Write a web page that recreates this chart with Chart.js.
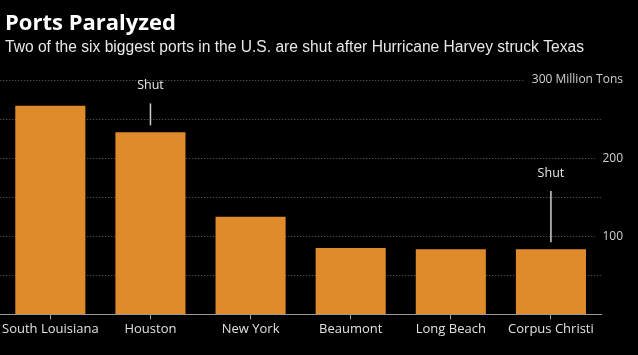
<!DOCTYPE html>
<html><head><meta charset="utf-8">
<script src="https://cdn.jsdelivr.net/npm/chart.js@4"></script>
<style>html,body{margin:0;padding:0;background:#000;}#wrap{width:638px;height:355px;position:relative;}</style>
</head><body><div id="wrap"><canvas id="c" width="638" height="355"></canvas></div>
<script>
const titleText = "Ports Paralyzed";
const subtitleText = "Two of the six biggest ports in the U.S. are shut after Hurricane Harvey struck Texas";
const ports = ["South Louisiana", "Houston", "New York", "Beaumont", "Long Beach", "Corpus Christi"];
const tonnage = [267, 233, 125, 85, 83.5, 83.5];
const yTickValues = [300, 200, 100];
const yTickLabels = ["300 Million Tons", "200", "100"];
const shutPorts = ["Houston", "Corpus Christi"];
const shutLineTop = [270, 158];

const bg = {
  id: 'bg',
  beforeDraw(chart) {
    const c = chart.ctx; c.save(); c.fillStyle = '#000'; c.fillRect(0, 0, chart.width, chart.height); c.restore();
  },
  afterDraw(chart) {
    const c = chart.ctx, ys = chart.scales.y;
    c.save();
    c.textBaseline = 'alphabetic'; c.textAlign = 'left';
    c.fillStyle = '#ffffff';
    c.font = 'bold 22px "Open Sans"';
    c.fillText(titleText, 5, 30);
    c.fillStyle = '#e8e8e8';
    c.font = '15.6px "Liberation Sans"';
    c.fillText(subtitleText, 5, 52);
    // right-hand axis labels
    c.font = '12px "Open Sans"';
    c.textAlign = 'right'; c.textBaseline = 'middle';
    const xr = chart.width - 15;
    yTickValues.forEach((v, i) => {
      const y = ys.getPixelForValue(v);
      const w = c.measureText(yTickLabels[i]).width;
      c.fillStyle = '#000';
      c.fillRect(xr - w - 7, y - 6, w + 7, 12);
      c.fillStyle = '#d0d0d0';
      c.fillText(yTickLabels[i], xr, y);
    });
    c.restore();
  }
};

const shut = {
  id: 'shut',
  afterDatasetsDraw(chart) {
    const c = chart.ctx, xs = chart.scales.x, ys = chart.scales.y;
    c.save();
    shutPorts.forEach((p, i) => {
      const idx = ports.indexOf(p);
      const x = xs.getPixelForValue(idx);
      const barTop = ys.getPixelForValue(tonnage[idx]);
      const top = ys.getPixelForValue(shutLineTop[i]);
      c.strokeStyle = '#cfcfcf'; c.lineWidth = 1.5;
      c.beginPath(); c.moveTo(x, barTop - 7); c.lineTo(x, top); c.stroke();
      c.fillStyle = '#e8e8e8'; c.font = '12.5px "Open Sans"';
      c.textAlign = 'center'; c.textBaseline = 'middle';
      c.fillText('Shut', x, top - 18);
    });
    c.restore();
  }
};

new Chart(document.getElementById('c'), {
  type: 'bar',
  data: {
    labels: ports,
    datasets: [{ data: tonnage, backgroundColor: '#E08B2B', borderWidth: 0, barPercentage: 0.7, categoryPercentage: 1.0 }]
  },
  options: {
    responsive: false,
    animation: false,
    layout: { padding: { top: 80, bottom: 16, left: 0, right: 15 } },
    plugins: { legend: { display: false }, tooltip: { enabled: false } },
    scales: {
      x: {
        grid: { display: true, drawOnChartArea: false, drawTicks: true, tickLength: 5, color: '#9a9a9a', offset: false },
        border: { display: true, color: '#9a9a9a', width: 1 },
        ticks: { color: '#e0e0e0', font: { family: '"Open Sans"', size: 13 }, padding: 2, maxRotation: 0, autoSkip: false }
      },
      y: {
        position: 'right',
        min: 0, max: 300,
        afterFit(scale) { scale.width = 22; },
        grid: { color: '#6a6a6a', lineWidth: 1, drawTicks: false },
        border: { display: false, dash: [1, 2] },
        ticks: { stepSize: 50, display: false }
      }
    }
  },
  plugins: [bg, shut]
});
</script></body></html>
